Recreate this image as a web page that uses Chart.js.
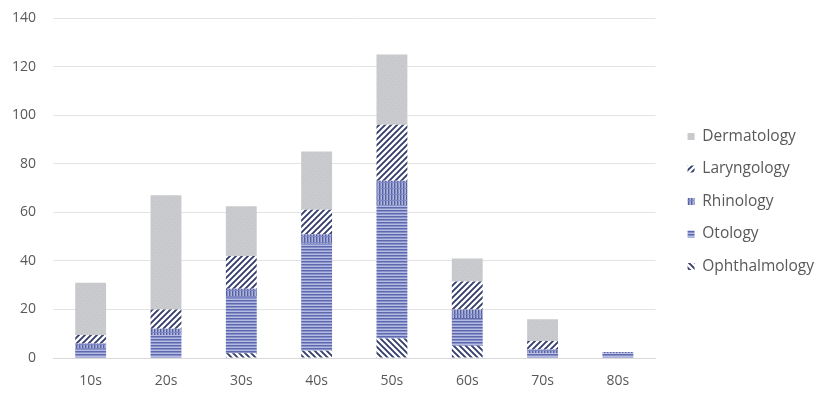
<!DOCTYPE html>
<html><head><meta charset="utf-8">
<script src="https://cdn.jsdelivr.net/npm/chart.js@4"></script>
<style>html,body{margin:0;padding:0;background:#fff;}#wrap{width:827px;height:393px;}</style>
</head><body><div id="wrap"><canvas id="c" width="827" height="393"></canvas></div>
<script>
const categories = ['10s','20s','30s','40s','50s','60s','70s','80s'];
const ophthalmology = [0, 0, 2, 3, 8, 5, 0, 0];
const otology       = [4, 9.5, 23, 44, 55, 11.5, 2, 2];
const rhinology     = [2, 2.5, 3.5, 4, 10, 3.5, 1.5, 0.5];
const laryngology   = [3.5, 8, 13.5, 10, 23, 11.5, 3.5, 0];
const dermatology   = [21.5, 47, 20.5, 24, 29, 9.5, 9, 0];
const yTicks = [0,20,40,60,80,100,120,140];

function makePattern(kind){
  const s = 6;
  const c = document.createElement('canvas'); c.width = s; c.height = s;
  const g = c.getContext('2d');
  if (kind === 'derm'){
    g.fillStyle = '#c9cacd'; g.fillRect(0,0,s,s);
    g.fillStyle = '#c1c2c6'; g.fillRect(0,0,1,1); g.fillRect(3,3,1,1);
  } else if (kind === 'lary' || kind === 'oph'){
    g.fillStyle = '#ffffff'; g.fillRect(0,0,s,s);
    g.strokeStyle = '#343d6b'; g.lineWidth = 1.9;
    g.beginPath();
    for (let k=-1;k<=1;k++){
      if (kind === 'lary'){ g.moveTo(k*s - 1, s + 1); g.lineTo(k*s + s + 1, -1); }
      else { g.moveTo(k*s - 1, -1); g.lineTo(k*s + s + 1, s + 1); }
    }
    g.stroke();
  } else if (kind === 'rhin'){
    g.fillStyle = '#aeb4de'; g.fillRect(0,0,s,s);
    g.fillStyle = '#56619f';
    g.fillRect(1,0,1.4,s); g.fillRect(4,0,1.4,s);
    g.fillStyle = '#7e88c6'; g.fillRect(0,2,s,1);
  } else if (kind === 'oto'){
    g.fillStyle = '#b5bbe3'; g.fillRect(0,0,s,s);
    g.fillStyle = '#5d68ae';
    g.fillRect(0,0,s,1.5); g.fillRect(0,3,s,1.5);
  }
  return g.createPattern(c,'repeat');
}

const FONT = 'Open Sans';
const legendShift = {
  id:'legendShift',
  afterLayout(chart){ if (chart.legend){ chart.legend.top -= 4; chart.legend.bottom -= 4; } }
};
function draw(){
  const ctx = document.getElementById('c').getContext('2d');
  const pats = {derm:makePattern('derm'), lary:makePattern('lary'), rhin:makePattern('rhin'), oto:makePattern('oto'), oph:makePattern('oph')};
  const ds = (label, data, p) => ({label, data, backgroundColor:p, borderWidth:0, barPercentage:0.82, categoryPercentage:0.5});
  new Chart(ctx, {
    type:'bar',
    data:{ labels:categories, datasets:[
      ds('Ophthalmology', ophthalmology, pats.oph),
      ds('Otology', otology, pats.oto),
      ds('Rhinology', rhinology, pats.rhin),
      ds('Laryngology', laryngology, pats.lary),
      ds('Dermatology', dermatology, pats.derm)
    ]},
    plugins:[legendShift],
    options:{
      responsive:false, animation:false, devicePixelRatio:1,
      layout:{padding:{top:18,right:3,left:12,bottom:0}},
      plugins:{
        tooltip:{enabled:false},
        legend:{position:'right', reverse:true, align:'center', maxWidth:220,
          labels:{boxWidth:7, boxHeight:7, padding:17, color:'#595959', font:{family:FONT, size:15.5}}}
      },
      scales:{
        x:{stacked:true, grid:{display:false}, border:{color:'#d9d9d9'},
           ticks:{color:'#595959', font:{family:FONT, size:14}, padding:7},
           afterFit:(a)=>{a.height = 35; a.paddingLeft = 0; a.paddingRight = 0;}},
        y:{stacked:true, min:0, max:140, afterBuildTicks:(a)=>{a.ticks = yTicks.map(v=>({value:v}));},
           grid:{color:'#e3e3e3', drawTicks:false}, border:{display:false},
           ticks:{color:'#595959', font:{family:FONT, size:14}, padding:17},
           afterFit:(a)=>{a.width = 41; a.paddingTop = 0; a.paddingBottom = 0;}},
        yr:{position:'right', min:0, max:1, display:true, grid:{display:false}, border:{display:false},
            ticks:{display:false}, afterFit:(a)=>{a.width = 15; a.paddingTop = 0; a.paddingBottom = 0;}}
      }
    }
  });
}
Promise.all([document.fonts.load('14px "Open Sans"'), document.fonts.load('15.5px "Open Sans"')]).then(draw, draw);
</script></body></html>
